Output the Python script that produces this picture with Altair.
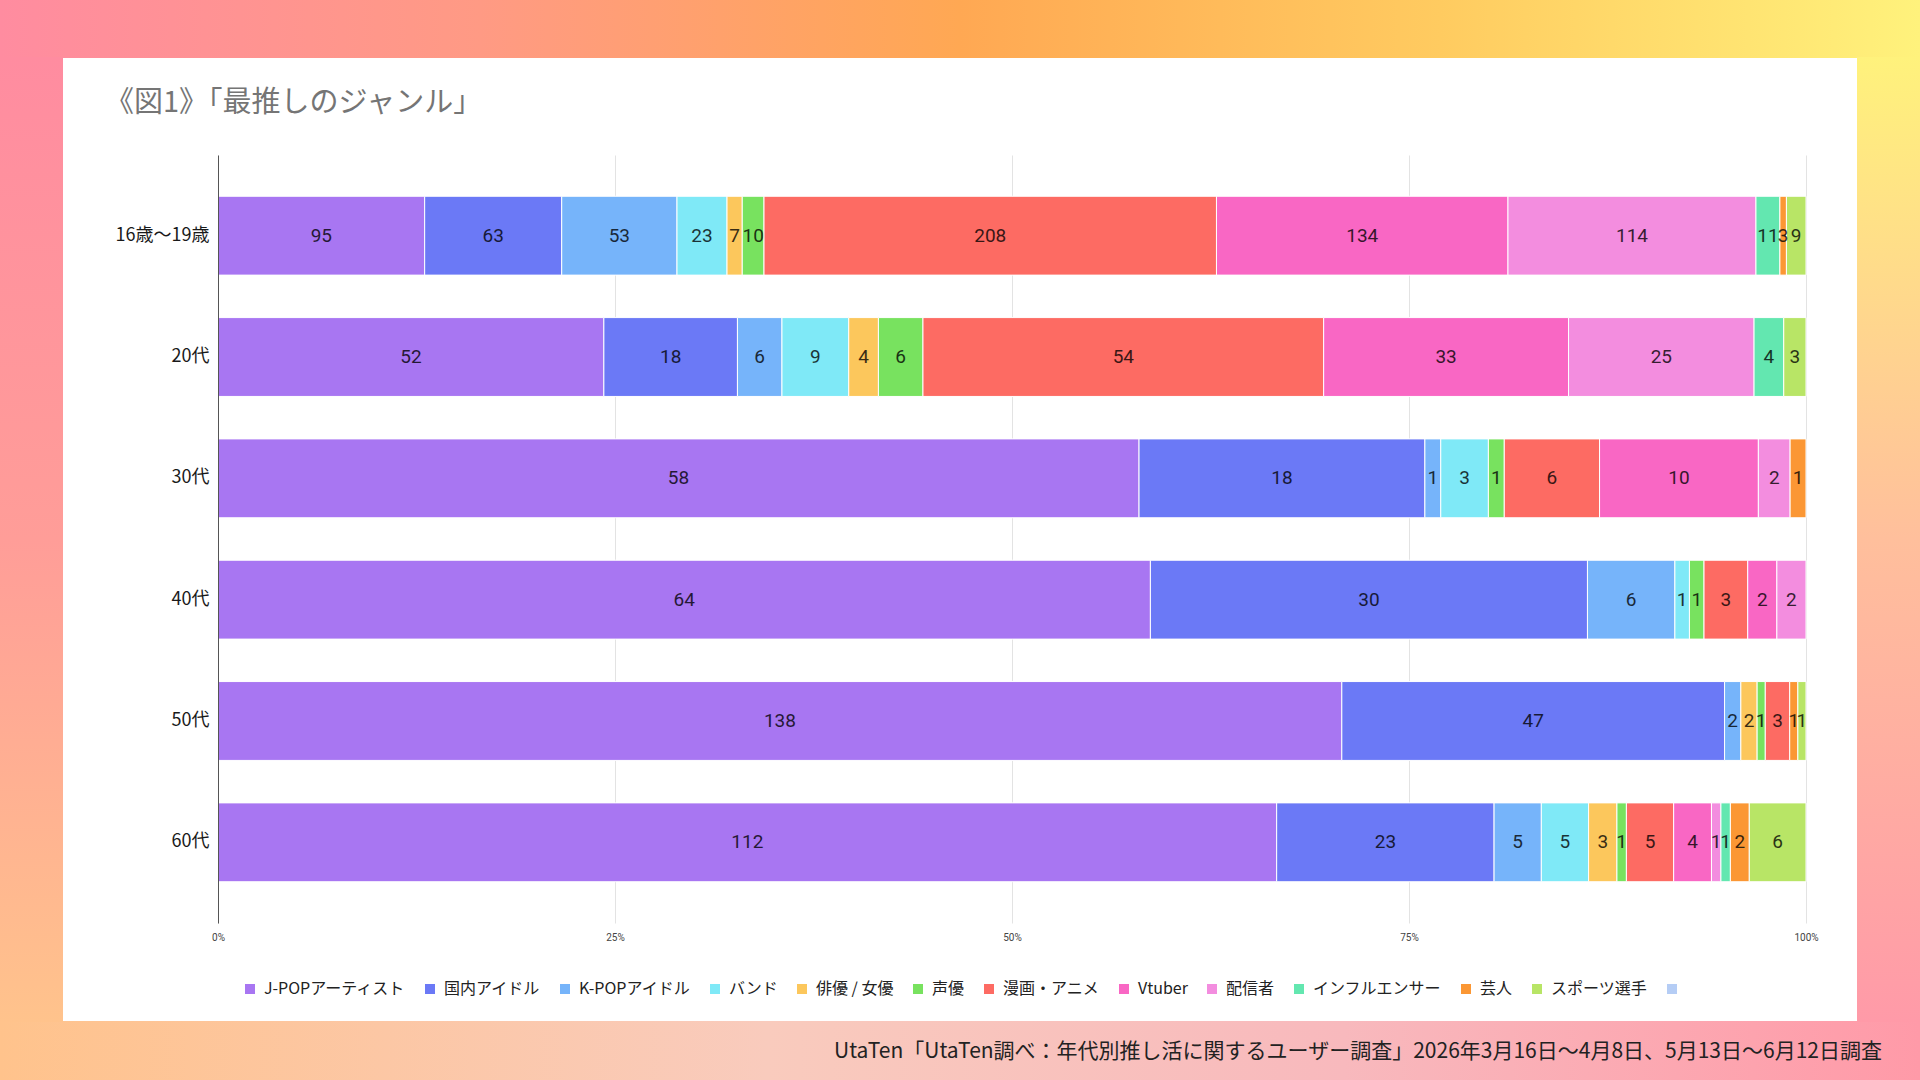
import altair as alt
import pandas as pd

# ---- data -------------------------------------------------------------
ages = ["16歳～19歳", "20代", "30代", "40代", "50代", "60代"]

genres = [
    "J-POPアーティスト", "国内アイドル", "K-POPアイドル", "バンド", "俳優 / 女優", "声優",
    "漫画・アニメ", "Vtuber", "配信者", "インフルエンサー", "芸人", "スポーツ選手",
]

genre_colors = [
    "#a876f2", "#6b79f6", "#76b4fa", "#7fe9f7", "#fcc75c", "#78e25f",
    "#fd6b63", "#f967c4", "#f38ddf", "#63e7b0", "#fb9734", "#b8e566",
]

# counts per genre (same order as `genres`)
teens = [95, 63, 53, 23, 7, 10, 208, 134, 114, 11, 3, 9]
twenties = [52, 18, 6, 9, 4, 6, 54, 33, 25, 4, 0, 3]
thirties = [58, 18, 1, 3, 0, 1, 6, 10, 2, 0, 1, 0]
forties = [64, 30, 6, 1, 0, 1, 3, 2, 2, 0, 0, 0]
fifties = [138, 47, 2, 0, 2, 1, 3, 0, 0, 0, 1, 1]
sixties = [112, 23, 5, 5, 3, 1, 5, 4, 1, 1, 2, 6]

counts_by_age = [teens, twenties, thirties, forties, fifties, sixties]

x_ticks = [0, 0.25, 0.5, 0.75, 1]

title_text = "《図1》「最推しのジャンル」"
source_text = "UtaTen「UtaTen調べ：年代別推し活に関するユーザー調査」2026年3月16日～4月8日、5月13日～6月12日調査"

rows = []
for age, counts in zip(ages, counts_by_age):
    for i, (g, v) in enumerate(zip(genres, counts)):
        rows.append({"age": age, "genre": g, "order": i, "value": v})
df = pd.DataFrame(rows)

# an extra, unlabeled legend swatch
legend_domain = genres + [" "]
legend_range = genre_colors + ["#b5cdf5"]

# ---- layout -------------------------------------------------------------
W, H = 1588, 768
PAD_L, PAD_T, PAD_R, PAD_B = 218, 155, 114, 157
FULL_W, FULL_H = 1920, 1080
PANEL = (62, 57, 1858, 1022)  # white card: left, top, right, bottom

JP_FONT = "Noto Sans CJK JP"


def strip(x0, x1, y0, y1, stops, horizontal=True):
    grad = alt.LinearGradient(
        gradient="linear",
        stops=[alt.GradientStop(color=c, offset=o) for o, c in stops],
        x1=0, y1=0,
        x2=1 if horizontal else 0,
        y2=0 if horizontal else 1,
    )
    return alt.Chart(alt.Data(values=[{}])).mark_rect(color=grad, strokeWidth=0).encode(
        x=alt.value(x0 - PAD_L), x2=alt.value(x1 - PAD_L),
        y=alt.value(y0 - PAD_T), y2=alt.value(y1 - PAD_T),
    )


pl, pt, pr, pb = PANEL
frame = [
    strip(0, FULL_W, 0, pt + 1,
          [(0, "#ff8ca0"), (0.25, "#ff9a84"), (0.5, "#ffa853"), (0.75, "#ffcb60"), (1, "#fff27c")]),
    strip(0, FULL_W, pb - 1, FULL_H,
          [(0, "#ffc38c"), (0.4, "#f9cbbd"), (0.7, "#f8b9bd"), (1, "#ff9aa8")]),
    strip(0, pl + 1, pt, pb,
          [(0, "#ff8ca0"), (0.5, "#ff9d98"), (1, "#ffc38c")], horizontal=False),
    strip(pr - 1, FULL_W, pt, pb,
          [(0, "#fff27c"), (0.5, "#ffbf9c"), (1, "#ff9aa8")], horizontal=False),
]

# ---- bars -----------------------------------------------------------------
base = alt.Chart(df).transform_filter("datum.value > 0").transform_stack(
    stack="value",
    as_=["x0", "x1"],
    groupby=["age"],
    offset="normalize",
    sort=[alt.SortField("order", order="ascending")],
).transform_calculate(mid="(datum.x0 + datum.x1) / 2")

y_enc = alt.Y(
    "age:N",
    sort=ages,
    scale=alt.Scale(paddingInner=0.35, paddingOuter=0.34),
    axis=alt.Axis(
        title=None, ticks=False, domain=True, domainColor="#555555", domainWidth=1,
        labelFontSize=18, labelColor="#1a1a1a", labelFont=JP_FONT, labelPadding=9,
        zindex=1,
    ),
)

bars = base.mark_bar(stroke="white", strokeWidth=1).encode(
    x=alt.X(
        "x0:Q",
        scale=alt.Scale(domain=[0, 1]),
        axis=alt.Axis(
            title=None, values=x_ticks, format=".0%", grid=True, gridColor="#e3e3e3",
            domain=False, ticks=False, labelFontSize=10, labelColor="#444444",
            labelPadding=9, labelFlush=False, labelFont="Roboto",
        ),
    ),
    x2="x1:Q",
    y=y_enc,
    color=alt.Color(
        "genre:N",
        scale=alt.Scale(domain=legend_domain, range=legend_range),
        legend=alt.Legend(
            title=None, orient="none", legendX=24, legendY=826, direction="horizontal",
            symbolType="square", symbolSize=100, symbolStrokeWidth=0,
            labelFontSize=16, labelColor="#222222", labelFont=JP_FONT,
            labelOffset=6, columnPadding=16,
        ),
    ),
)

labels = base.mark_text(font="Roboto", fontSize=19, color="#000000", opacity=0.78).encode(
    x="mid:Q",
    y=alt.Y("age:N", sort=ages),
    text="value:Q",
)

# ---- texts ------------------------------------------------------------------
title = alt.Chart(alt.Data(values=[{}])).mark_text(
    align="left", baseline="middle", fontSize=29, color="#757575", font=JP_FONT
).encode(x=alt.value(105 - PAD_L), y=alt.value(103 - PAD_T), text=alt.value(title_text))

source = alt.Chart(alt.Data(values=[{}])).mark_text(
    align="right", baseline="middle", fontSize=21, color="#222222", font=JP_FONT
).encode(x=alt.value(1882 - PAD_L), y=alt.value(1052 - PAD_T), text=alt.value(source_text))

chart = alt.layer(*frame, bars, labels, title, source).properties(
    width=W,
    height=H,
    autosize=alt.AutoSizeParams(type="none"),
    padding={"left": PAD_L, "top": PAD_T, "right": PAD_R, "bottom": PAD_B},
    background="white",
).configure_view(stroke="transparent")

chart.save("out.html", embed_options={"renderer": "svg", "actions": False})
